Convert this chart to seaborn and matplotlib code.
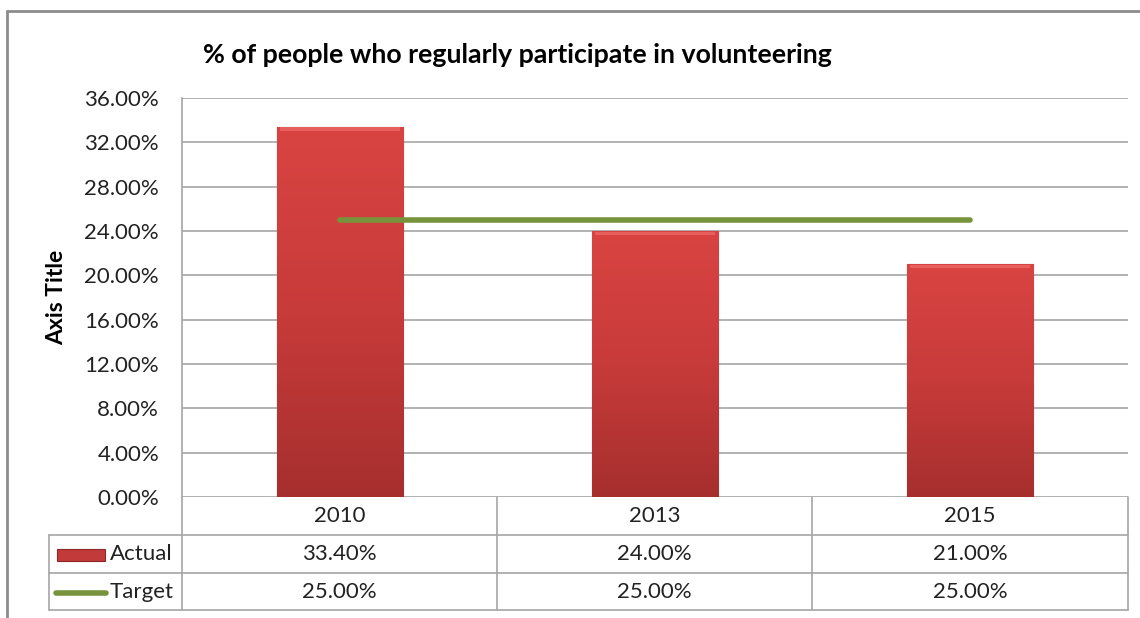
import numpy as np
import pandas as pd
import matplotlib
matplotlib.use("Agg")
import matplotlib.pyplot as plt
import seaborn as sns
from matplotlib.lines import Line2D
from matplotlib.patches import Rectangle
from matplotlib.colors import LinearSegmentedColormap

years = ["2010", "2013", "2015"]
actual = [33.40, 24.00, 21.00]
target = [25.00, 25.00, 25.00]
yticks = [0, 4, 8, 12, 16, 20, 24, 28, 32, 36]
title = "% of people who regularly participate in volunteering"

sns.set_style("white")
plt.rcParams['font.family'] = ['Lato', 'DejaVu Sans']

FS = 16
W, H = 1140, 618
fig = plt.figure(figsize=(W / 100, H / 100), dpi=100)
L, R, T, B = 182, 1128, 98, 497
ax = fig.add_axes([L / W, 1 - B / H, (R - L) / W, (B - T) / H])

df = pd.DataFrame({"year": years, "Actual": actual})
sns.barplot(data=df, x="year", y="Actual", width=0.4, color="#D24040",
            ax=ax, saturation=1, edgecolor="#8E2828", linewidth=0.8, zorder=3)

# gradient fill for bars
cmap = LinearSegmentedColormap.from_list("bar", ["#A62F2E", "#C73B3A", "#D94442"])
grad = np.linspace(0, 1, 256).reshape(-1, 1)
for p in list(ax.patches):
    x0, y0 = p.get_x(), p.get_y()
    w, h = p.get_width(), p.get_height()
    im = ax.imshow(grad, cmap=cmap, aspect="auto", origin="lower",
                   extent=[x0, x0 + w, y0, y0 + h], zorder=3.5, interpolation="bicubic")
    im.set_clip_path(p)
    # top bevel highlight
    ax.add_patch(Rectangle((x0 + 0.01, y0 + h - 0.35), w - 0.02, 0.3, facecolor="#E8605D",
                           edgecolor="none", zorder=3.6))

xpos = np.arange(len(years))
ax.plot(xpos, target, color="#77933C", linewidth=4, solid_capstyle="round", zorder=5)

ax.set_xlim(-0.5, len(years) - 0.5)
ax.set_ylim(0, 36)
ax.set_yticks(yticks)
ax.set_yticklabels([f"{v:.2f}%" for v in yticks], fontsize=FS, color="#222222")
ax.tick_params(axis="y", length=0, pad=16.5)
ax.set_xticks([])
ax.set_xlabel("")
ax.set_ylabel("")
ax.grid(axis="y", color="#A6A6A6", linewidth=1.2, zorder=0)
ax.set_axisbelow(True)
for s in ["top", "right", "bottom"]:
    ax.spines[s].set_visible(False)
ax.spines["left"].set_color("#A6A6A6")
ax.spines["left"].set_linewidth(1.2)

# y label
fig.text(57 / W, 1 - 297 / H, "Axis Title", rotation=90, fontsize=16.5, fontweight="bold",
         ha="center", va="center", color="#000000")
# title
fig.text(517 / W, 1 - 55 / H, title, fontsize=19.3, fontweight="bold",
         ha="center", va="center", color="#000000")

# data table
gc = "#A6A6A6"
def fy(py):
    return 1 - py / H
def fx(px):
    return px / W
col_x = [L, 497, 812, R]
fig.add_artist(Line2D([fx(L), fx(R)], [fy(535), fy(535)], color=gc, lw=1.2))
fig.add_artist(Line2D([fx(49), fx(L)], [fy(535), fy(535)], color=gc, lw=1.2))
fig.add_artist(Line2D([fx(L), fx(R)], [fy(573), fy(573)], color=gc, lw=1.2))
fig.add_artist(Line2D([fx(49), fx(L)], [fy(573), fy(573)], color=gc, lw=1.2))
fig.add_artist(Line2D([fx(49), fx(R)], [fy(610), fy(610)], color=gc, lw=1.2))
for cx in col_x:
    fig.add_artist(Line2D([fx(cx), fx(cx)], [fy(497), fy(610)], color=gc, lw=1.2))
fig.add_artist(Line2D([fx(49), fx(49)], [fy(535), fy(610)], color=gc, lw=1.2))

for i, yr in enumerate(years):
    cx = (col_x[i] + col_x[i + 1]) / 2
    fig.text(fx(cx), fy(516), yr, fontsize=FS, ha="center", va="center", color="#222222")
    fig.text(fx(cx), fy(554), f"{actual[i]:.2f}%", fontsize=FS, ha="center", va="center", color="#222222")
    fig.text(fx(cx), fy(592), f"{target[i]:.2f}%", fontsize=FS, ha="center", va="center", color="#222222")

# legend keys
fig.add_artist(Rectangle((fx(57), fy(561)), fx(105) - fx(57), fy(549) - fy(561),
                         facecolor="#C23A39", edgecolor="#8E2828", lw=0.8))
fig.add_artist(Line2D([fx(56), fx(106)], [fy(593), fy(593)], color="#77933C", lw=4,
                      solid_capstyle="round"))
fig.text(fx(110), fy(554), "Actual", fontsize=FS, ha="left", va="center", color="#222222")
fig.text(fx(110), fy(592), "Target", fontsize=FS, ha="left", va="center", color="#222222")

# outer chart frame
fig.add_artist(Line2D([fx(7), fx(7)], [fy(11), 0], color="#8C8C8C", lw=2))
fig.add_artist(Line2D([fx(7), 1], [fy(11), fy(11)], color="#8C8C8C", lw=2))

fig.savefig("out.png", dpi=100)
